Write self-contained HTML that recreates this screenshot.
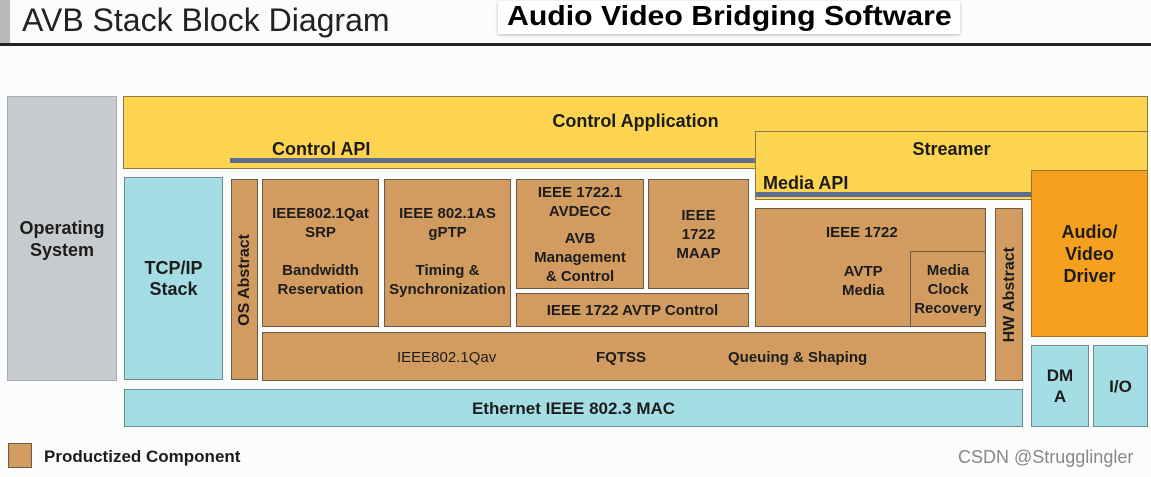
<!DOCTYPE html>
<html><head><meta charset="utf-8"><style>
*{margin:0;padding:0;box-sizing:border-box}
body{width:1151px;height:477px;background:#fbfcfc;position:relative;overflow:hidden;font-family:"Liberation Sans",sans-serif;font-weight:bold;color:#1c1c1c}
.b{position:absolute;border:1.5px solid #6b5a45;display:flex;align-items:center;justify-content:center;text-align:center;font-size:15px;line-height:19px}
.br{background:#d29c60}
.y{background:#fdd44f;border-color:#8a7a4a}
.c{background:#a4dde4;border-color:#6f8a90}
.t{position:absolute;white-space:nowrap}
.v{writing-mode:vertical-rl;transform:rotate(180deg);font-size:16px}
</style></head><body>
<div style="position:absolute;left:0;top:0;width:10px;height:44px;background:#b8b8b8"></div>
<div class="t" style="left:22px;top:2px;font-size:32px;font-weight:normal;color:#222">AVB Stack Block Diagram</div>
<div style="position:absolute;left:0;top:43px;width:1151px;height:3px;background:#222"></div>
<div style="position:absolute;left:498px;top:1px;width:462px;height:33px;background:#fff;box-shadow:0 1px 3px #bbb"></div>
<div class="t" style="left:507px;top:0px;font-size:28px;color:#000;transform:scaleX(1.08);transform-origin:left">Audio Video Bridging Software</div>

<div class="b" style="left:7px;top:96px;width:110px;height:285px;background:#c8cbcd;border-color:#aab;font-size:18px;line-height:22px"><div>Operating<br>System</div></div>
<div class="b y" style="left:123px;top:96px;width:1025px;height:73px;align-items:flex-start;padding-top:15px;font-size:18px">Control Application</div>
<div class="t" style="left:272px;top:139px;font-size:18px">Control API</div>
<div style="position:absolute;left:230px;top:158px;width:526px;height:5px;background:#5d6d8f"></div>
<div class="b y" style="left:755px;top:131px;width:393px;height:69px;align-items:flex-start;padding-top:8px;font-size:18px">Streamer</div>
<div class="t" style="left:763px;top:173px;font-size:18px">Media API</div>
<div style="position:absolute;left:756px;top:192px;width:275px;height:5px;background:#5d6d8f"></div>
<div class="b" style="left:1031px;top:170px;width:117px;height:167px;background:#f5a11f;border-color:#a0702a;font-size:18px;line-height:22px"><div>Audio/<br>Video<br>Driver</div></div>

<div class="b c" style="left:124px;top:177px;width:99px;height:203px;font-size:18px;line-height:21px"><div>TCP/IP<br>Stack</div></div>
<div class="b br" style="left:231px;top:179px;width:27px;height:201px"><span class="v">OS Abstract</span></div>
<div class="b br" style="left:262px;top:179px;width:117px;height:148px;align-items:flex-start;padding-top:24px"><div>IEEE802.1Qat<br>SRP<br><br>Bandwidth<br>Reservation</div></div>
<div class="b br" style="left:384px;top:179px;width:127px;height:148px;align-items:flex-start;padding-top:24px"><div>IEEE 802.1AS<br>gPTP<br><br>Timing &amp;<br>Synchronization</div></div>
<div class="b br" style="left:516px;top:179px;width:128px;height:110px;align-items:flex-start;padding-top:3px"><div>IEEE 1722.1<br>AVDECC<div style="height:8px"></div>AVB<br>Management<br>&amp; Control</div></div>
<div class="b br" style="left:648px;top:179px;width:101px;height:110px"><div>IEEE<br>1722<br>MAAP</div></div>
<div class="b br" style="left:516px;top:293px;width:233px;height:34px">IEEE 1722 AVTP Control</div>
<div class="b br" style="left:755px;top:208px;width:231px;height:119px"></div>
<div class="t" style="left:826px;top:224px;font-size:15px">IEEE 1722</div>
<div class="t" style="left:842px;top:262px;font-size:15px;text-align:center;line-height:19px">AVTP<br>Media</div>
<div class="b br" style="left:910px;top:251px;width:76px;height:76px"><div>Media<br>Clock<br>Recovery</div></div>
<div class="b br" style="left:995px;top:208px;width:28px;height:173px"><span class="v">HW Abstract</span></div>
<div class="b br" style="left:262px;top:332px;width:724px;height:49px"></div>
<div class="t" style="left:397px;top:349px;font-size:15px;font-weight:normal">IEEE802.1Qav</div>
<div class="t" style="left:596px;top:349px;font-size:15px">FQTSS</div>
<div class="t" style="left:728px;top:349px;font-size:15px">Queuing &amp; Shaping</div>
<div class="b c" style="left:124px;top:389px;width:899px;height:38px;font-size:17px">Ethernet IEEE 802.3 MAC</div>
<div class="b c" style="left:1031px;top:345px;width:58px;height:82px;font-size:17px;line-height:21px"><div>DM<br>A</div></div>
<div class="b c" style="left:1093px;top:345px;width:55px;height:82px;font-size:17px">I/O</div>

<div class="b br" style="left:8px;top:443px;width:24px;height:25px"></div>
<div class="t" style="left:44px;top:447px;font-size:17px">Productized Component</div>
<div class="t" style="left:958px;top:447px;font-size:18px;font-weight:normal;color:#888">CSDN @Strugglingler</div>
</body></html>
